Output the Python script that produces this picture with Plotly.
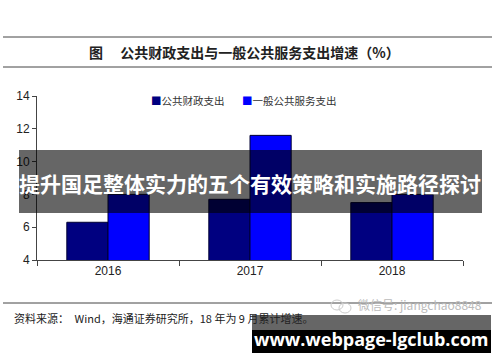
import plotly.graph_objects as go

years = ["2016", "2017", "2018"]
fiscal_spending = [6.3, 7.7, 7.5]
public_service_spending = [8.0, 11.6, 8.0]
series_names = ["公共财政支出", "一般公共服务支出"]
y_ticks = [4, 6, 8, 10, 12, 14]

fig = go.Figure()
fig.add_trace(go.Bar(x=years, y=fiscal_spending, name=series_names[0],
                     marker=dict(color="#000080", line=dict(color="#000033", width=1))))
fig.add_trace(go.Bar(x=years, y=public_service_spending, name=series_names[1],
                     marker=dict(color="#0000FF", line=dict(color="#000033", width=1))))

fig.update_layout(
    width=500, height=362,
    margin=dict(l=37, r=37, t=96, b=102),
    paper_bgcolor="white", plot_bgcolor="white",
    showlegend=False,
    barmode="group", bargap=0.42, bargroupgap=0,
    font=dict(family="Liberation Sans, Arial", size=12, color="#222"),
)
fig.update_yaxes(range=[4, 14], tickvals=y_ticks, showgrid=False, zeroline=False,
                 showline=True, linecolor="#444", linewidth=1,
                 ticks="outside", ticklen=4, tickcolor="#444",
                 tickfont=dict(size=12, color="#222"))
fig.update_xaxes(showgrid=False, showline=True, linecolor="#444", linewidth=1,
                 ticks="outside", ticklen=5, tickcolor="#444", tickson="boundaries",
                 tickfont=dict(size=12, color="#222"))

def px(x):
    return (x - 37) / 426

def py(y):
    return (260 - y) / 164

shapes = []
# horizontal rules
for yy in [37, 67, 303]:
    shapes.append(dict(type="line", xref="paper", yref="paper",
                       x0=px(3), x1=px(492), y0=py(yy), y1=py(yy),
                       line=dict(color="#444", width=1), layer="above"))
fig.update_layout(shapes=shapes)

# banner
fig.add_shape(type="rect", xref="paper", yref="paper", x0=px(19), x1=px(482), y0=py(213), y1=py(150),
              fillcolor="rgba(0,0,0,0.6)", line=dict(width=0), layer="above")
# bottom box
fig.add_shape(type="rect", xref="paper", yref="paper", x0=px(252), x1=px(491), y0=py(330), y1=py(315),
              fillcolor="rgba(0,0,0,0.6)", line=dict(width=0), layer="above")
fig.add_shape(type="rect", xref="paper", yref="paper", x0=px(252), x1=px(491), y0=py(353), y1=py(330),
              fillcolor="black", line=dict(width=0), layer="above")
# wechat icon circles
fig.add_shape(type="circle", xref="paper", yref="paper", x0=px(331), x1=px(343), y0=py(310), y1=py(300),
              line=dict(color="#ccc", width=1), layer="above")
fig.add_shape(type="circle", xref="paper", yref="paper", x0=px(339), x1=px(351), y0=py(313), y1=py(303),
              line=dict(color="#ccc", width=1), layer="above")

ann = [
    dict(x=px(244), y=py(52), text="<b>图　 公共财政支出与一般公共服务支出增速（%）</b>",
         font=dict(family="Noto Sans CJK SC", size=14, color="#222")),
    dict(x=px(149), y=py(100), xanchor="left",
         text='<span style="color:#000080">■</span>' + series_names[0],
         font=dict(family="Noto Sans CJK SC", size=10.5, color="#333")),
    dict(x=px(240), y=py(100), xanchor="left",
         text='<span style="color:#0000FF">■</span>' + series_names[1],
         font=dict(family="Noto Sans CJK SC", size=10.5, color="#333")),
    dict(x=px(250), y=py(183), text="<b>提升国足整体实力的五个有效策略和实施路径探讨</b>",
         font=dict(family="Noto Sans CJK SC", size=21, color="white")),
    dict(x=px(12), y=py(318), xanchor="left",
         text="资料来源：　Wind，海通证券研究所，18 年为 9 月累计增速。",
         font=dict(family="Noto Sans CJK SC", size=11, color="#222")),
    dict(x=px(356), y=py(304), xanchor="left", text="微信号: jiangchao8848",
         font=dict(family="Noto Sans CJK SC", size=12, color="#bbb")),
    dict(x=px(371), y=py(339), text="<b>www.webpage-lgclub.com</b>",
         font=dict(family="Open Sans", size=18, color="white")),
]
for a in ann:
    a.setdefault("xanchor", "center")
    fig.add_annotation(xref="paper", yref="paper", showarrow=False, yanchor="middle", **a)

fig.write_html("out.html")
